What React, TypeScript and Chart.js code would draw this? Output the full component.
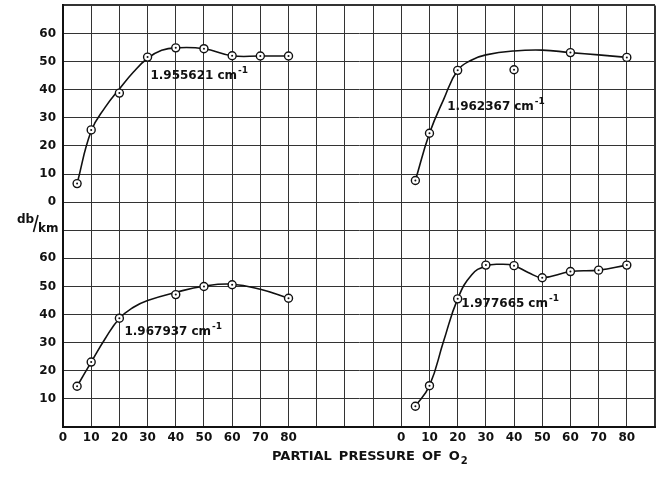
import { useEffect, useRef } from "react";
import { Chart, registerables } from "chart.js";

Chart.register(...registerables);

// ---- data ----
const wavenumbers = ["1.955621", "1.962367", "1.967937", "1.977665"];

// upper-left panel (1.955621 cm-1)
const tlPressure = [5, 10, 20, 30, 40, 50, 60, 70, 80];
const tlMeasured = [6.6, 25.7, 38.8, 51.6, 54.9, 54.6, 52.1, 52.0, 52.0];
const tlCurvePressure = [5, 10, 15, 20, 25, 30, 35, 40, 50, 60, 70, 80];
const tlCurve = [6.6, 25.3, 33.8, 40.3, 46.3, 51.2, 54.0, 54.9, 54.6, 52.1, 52.0, 52.0];

// upper-right panel (1.962367 cm-1)
const trPressure = [5, 10, 20, 40, 60, 80];
const trMeasured = [7.7, 24.5, 46.9, 47.1, 53.2, 51.5];
const trCurvePressure = [5, 10, 15, 20, 25, 30, 40, 50, 60, 70, 80];
const trCurve = [7.7, 24.5, 36.5, 46.9, 50.6, 52.4, 53.8, 54.1, 53.2, 52.4, 51.5];

// lower-left panel (1.967937 cm-1)
const blPressure = [5, 10, 20, 40, 50, 60, 80];
const blMeasured = [14.5, 23.1, 38.7, 47.1, 50.0, 50.6, 45.8];
const blCurvePressure = [5, 10, 15, 20, 25, 30, 40, 50, 60, 70, 80];
const blCurve = [14.5, 23.1, 31.5, 38.6, 42.6, 45.0, 47.9, 50.1, 50.8, 49.0, 45.8];

// lower-right panel (1.977665 cm-1)
const brPressure = [5, 10, 20, 30, 40, 50, 60, 70, 80];
const brMeasured = [7.4, 14.7, 45.6, 57.6, 57.4, 53.1, 55.3, 55.8, 57.6];
const brCurvePressure = [5, 10, 15, 20, 25, 30, 35, 40, 45, 50, 60, 70, 80];
const brCurve = [7.4, 14.7, 30.5, 45.6, 54.2, 57.3, 57.9, 57.4, 55.0, 53.2, 55.3, 55.8, 57.6];

// tick labels
const xTickLabels = [0, 10, 20, 30, 40, 50, 60, 70, 80];
const upperYTicks = [0, 10, 20, 30, 40, 50, 60];
const lowerYTicks = [10, 20, 30, 40, 50, 60];

const xTitle = "PARTIAL PRESSURE OF O";
const xTitleSub = "2";
const yUnitTop = "db";
const yUnitBottom = "km";

// ---- layout (not data) ----
const RIGHT_OFFSET = 120; // right panels start 12 grid columns over
const UPPER_OFFSET = 80; // upper panels start 8 grid rows up
const FONT = "'DejaVu Sans', sans-serif";

const pairs = (xs: number[], ys: number[]) => xs.map((x, i) => ({ x, y: ys[i] }));

const panels = [
  { xAxis: "xL", yAxis: "yT", px: tlPressure, py: tlMeasured, cx: tlCurvePressure, cy: tlCurve, label: { x: 31, y: 45.5 } },
  { xAxis: "xR", yAxis: "yT", px: trPressure, py: trMeasured, cx: trCurvePressure, cy: trCurve, label: { x: 16.3, y: 34.5 } },
  { xAxis: "xL", yAxis: "yB", px: blPressure, py: blMeasured, cx: blCurvePressure, cy: blCurve, label: { x: 21.8, y: 34.5 } },
  { xAxis: "xR", yAxis: "yB", px: brPressure, py: brMeasured, cx: brCurvePressure, cy: brCurve, label: { x: 21.3, y: 44.5 } },
];

const textPlugin = {
  id: "figureText",
  afterDraw(chart: any) {
    const ctx = chart.ctx as CanvasRenderingContext2D;
    ctx.save();
    ctx.fillStyle = "#111";
    ctx.textBaseline = "alphabetic";
    // curve labels
    panels.forEach((p, i) => {
      const xs = chart.scales[p.xAxis];
      const ys = chart.scales[p.yAxis];
      let x = xs.getPixelForValue(p.label.x);
      const y = ys.getPixelForValue(p.label.y) + 5;
      ctx.font = `bold 12px ${FONT}`;
      ctx.textAlign = "left";
      const num = wavenumbers[i];
      ctx.fillText(num, x, y);
      x += ctx.measureText(num).width + 4;
      ctx.fillText("cm", x, y);
      x += ctx.measureText("cm").width + 1;
      ctx.font = `bold 9px ${FONT}`;
      ctx.fillText("-1", x, y - 6);
    });
    // axis title
    ctx.font = `bold 13px ${FONT}`;
    ctx.textAlign = "left";
    const words = xTitle.split(" ");
    let tx = 272;
    const ty = 460;
    words.forEach((w) => {
      ctx.fillText(w, tx, ty);
      tx += ctx.measureText(w).width + 7;
    });
    tx -= 7;
    ctx.font = `bold 10px ${FONT}`;
    ctx.fillText(xTitleSub, tx + 1, ty + 4);
    // unit label db/km
    ctx.font = `bold 12px ${FONT}`;
    ctx.fillText(yUnitTop, 17, 223);
    ctx.lineWidth = 1.6;
    ctx.strokeStyle = "#111";
    ctx.beginPath();
    ctx.moveTo(33.5, 232);
    ctx.lineTo(38, 215);
    ctx.stroke();
    ctx.fillText(yUnitBottom, 38, 232);
    ctx.restore();
  },
};

export default function App() {
  const ref = useRef<HTMLCanvasElement | null>(null);

  useEffect(() => {
    if (!ref.current) return;
    Chart.defaults.font.family = FONT;
    const datasets: any[] = [];
    panels.forEach((p) => {
      datasets.push({
        type: "line",
        data: pairs(p.cx, p.cy),
        xAxisID: p.xAxis,
        yAxisID: p.yAxis,
        borderColor: "#111",
        borderWidth: 1.6,
        pointRadius: 0,
        fill: false,
        tension: 0.45,
        order: 3,
      });
      datasets.push({
        type: "line",
        data: pairs(p.px, p.py),
        xAxisID: p.xAxis,
        yAxisID: p.yAxis,
        showLine: false,
        pointRadius: 4,
        pointBorderWidth: 1.4,
        pointBorderColor: "#111",
        pointBackgroundColor: "#fff",
        order: 2,
      });
      datasets.push({
        type: "line",
        data: pairs(p.px, p.py),
        xAxisID: p.xAxis,
        yAxisID: p.yAxis,
        showLine: false,
        pointRadius: 1,
        pointBorderWidth: 0,
        pointBackgroundColor: "#111",
        order: 1,
      });
    });

    const chart = new Chart(ref.current, {
      type: "line",
      data: { datasets },
      plugins: [textPlugin],
      options: {
        animation: false,
        responsive: false,
        layout: { padding: { top: 5, right: 10, left: 0, bottom: 0 } },
        plugins: { legend: { display: false }, tooltip: { enabled: false } },
        scales: {
          xL: {
            type: "linear",
            position: "bottom",
            min: 0,
            max: 210,
            ticks: {
              stepSize: 10,
              autoSkip: false,
              maxRotation: 0,
              padding: 4,
              color: "#111",
              font: { size: 12, weight: "bold" },
              callback: (v: any) => {
                const n = Number(v);
                if (xTickLabels.includes(n)) return String(n);
                if (xTickLabels.includes(n - RIGHT_OFFSET)) return String(n - RIGHT_OFFSET);
                return "";
              },
            },
            grid: {
              color: "#333",
              lineWidth: (c: any) => (c.tick && c.tick.value === 210 ? 2 : 1),
              drawTicks: false,
            },
            border: { display: true, color: "#111", width: 2 },
            afterFit: (s: any) => {
              s.height = 55;
              s.paddingLeft = 0;
              s.paddingRight = 0;
            },
          },
          xR: { type: "linear", display: false, min: -RIGHT_OFFSET, max: 210 - RIGHT_OFFSET },
          yB: {
            type: "linear",
            position: "left",
            min: 0,
            max: 150,
            ticks: {
              stepSize: 10,
              autoSkip: false,
              padding: 7,
              color: "#111",
              font: { size: 12, weight: "bold" },
              callback: (v: any) => {
                const n = Number(v);
                if (n >= UPPER_OFFSET && upperYTicks.includes(n - UPPER_OFFSET)) return String(n - UPPER_OFFSET);
                if (n < 70 && lowerYTicks.includes(n)) return String(n);
                return "";
              },
            },
            grid: {
              color: "#333",
              lineWidth: (c: any) => (c.tick && c.tick.value === 150 ? 2 : 1),
              drawTicks: false,
            },
            border: { display: true, color: "#111", width: 2 },
            afterFit: (s: any) => {
              s.width = 63;
              s.paddingTop = 0;
              s.paddingBottom = 0;
            },
          },
          yT: { type: "linear", display: false, min: -UPPER_OFFSET, max: 150 - UPPER_OFFSET },
        },
      } as any,
    });
    return () => chart.destroy();
  }, []);

  return (
    <div style={{ position: "fixed", left: 0, top: 0, width: 665, height: 482, background: "#fff" }}>
      <canvas ref={ref} width={665} height={482} style={{ width: 665, height: 482 }} />
    </div>
  );
}
